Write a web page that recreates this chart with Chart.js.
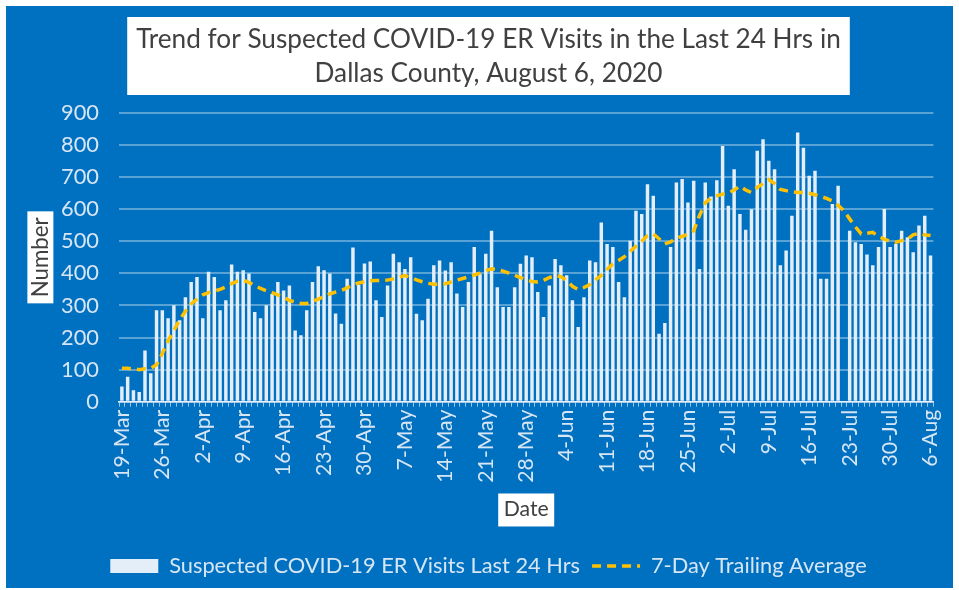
<!DOCTYPE html>
<html>
<head>
<meta charset="utf-8">
<script src="https://cdn.jsdelivr.net/npm/chart.js@4.4.0/dist/chart.umd.min.js"></script>
<style>
  html, body { margin: 0; padding: 0; background: #fff; }
  #wrap { width: 959px; height: 590px; }
</style>
</head>
<body>
<div id="wrap"><canvas id="erChart" width="959" height="590"></canvas></div>
<script>
// Categories: one bar per day, 19-Mar to 6-Aug 2020, a label every 7 days
const monthNames = ["Jan","Feb","Mar","Apr","May","Jun","Jul","Aug","Sep","Oct","Nov","Dec"];
const dates = [];
for (let i = 0; i < 141; i++) {
  const d = new Date(2020, 2, 19 + i);
  dates.push(d.getDate() + "-" + monthNames[d.getMonth()]);
}
const labelEvery = 7;

// Suspected COVID-19 ER visits in the last 24 hrs
const visits = [
  47, 78, 36, 30, 160, 89, 285, 285, 260, 301, 254, 326, 373, 389, 260, 405, 389, 285, 316, 428,
  405, 410, 400, 280, 260, 301, 336, 373, 347, 362, 222, 207, 285, 373, 422, 410, 400, 275, 243,
  383, 481, 364, 431, 437, 316, 264, 362, 461, 435, 414, 450, 274, 254, 321, 425, 440, 409, 435,
  337, 295, 373, 482, 399, 461, 533, 357, 295, 295, 357, 430, 456, 450, 342, 264, 362, 445, 425,
  394, 316, 233,
  326, 440, 435, 559, 492, 482, 373, 326, 502, 595, 585, 678, 642, 212, 245, 482, 683, 694, 621,
  689, 414, 683, 640, 690, 797, 611, 725, 585, 536, 600, 782, 818, 751, 725, 425, 471, 580, 839,
  792, 704,
  720, 383, 383, 616, 673, null, 533, 497, 492, 459, 425, 482, 601, 482, 492, 533, 513, 466, 549,
  580, 456
];

// 7-day trailing average
const trailingAvg = [
  104, 104, 102, 100, 103, 104, 115, 150, 190, 222, 255, 282, 305, 320, 333, 340, 345, 350, 358, 368,
  376, 378, 372, 362, 353, 346, 340, 333, 325, 316, 310, 306, 306, 312, 320, 328, 336, 342, 347,
  355, 365, 370, 374, 377, 378, 378, 379, 383, 388, 393, 388, 380, 374, 369, 366, 366, 368, 373,
  379, 384, 389, 395, 401, 408, 414, 412, 407, 401, 394, 387, 380, 375, 373, 378, 387, 393, 390,
  378, 360, 350,
  356, 365, 380, 394, 412, 430, 440, 452, 468, 485, 500, 518, 523, 508, 492, 498, 510, 515, 522,
  533, 580, 620, 635, 642, 647, 650, 660, 672, 660, 652, 668, 680, 692, 680, 662, 658, 655, 652,
  652, 650,
  645, 640, 634, 626, 612, 595, 570, 545, 523, 525, 528, 515, 507, 500, 497, 502, 507, 520, 525,
  520, 518
];

const titleLines = [
  "Trend for Suspected COVID-19 ER Visits in the Last 24 Hrs in",
  "Dallas County, August 6, 2020"
];

const FONT = "Lato, 'Open Sans', sans-serif";
const BLUE = "#0070c0";
const LIGHT = "#d7e6f5";
const DARK = "#404040";
const avgDash = [9, 6];

// pick a font size so a text gets the width it has in the picture
const measureCtx = document.createElement("canvas").getContext("2d");
function fitSize(text, width) {
  measureCtx.font = "100px " + FONT;
  return Math.round(1000 * width / measureCtx.measureText(text).width) / 10;
}
const titleSize = fitSize(titleLines[0], 705);
const legendSize = fitSize("Suspected COVID-19 ER Visits Last 24 Hrs", 411);
const xTickSize = fitSize("19-Mar", 70);
const yTickSize = fitSize("900", 38);
const numberSize = fitSize("Number", 80);
const dateSize = fitSize("Date", 45);

Chart.defaults.font.family = FONT;

// blue panel plus the white boxes behind title and axis titles
const framePlugin = {
  id: "frame",
  beforeDraw(chart) {
    const { ctx, chartArea, scales } = chart;
    ctx.save();
    ctx.fillStyle = BLUE;
    ctx.fillRect(6, 6, 947, 582);
    ctx.fillStyle = "#ffffff";

    const t = chart.titleBlock;
    ctx.font = titleSize + "px " + FONT;
    const tw = ctx.measureText(titleLines[0]).width + 18;
    const tcx = (t.left + t.right) / 2;
    ctx.fillRect(tcx - tw / 2, t.top + 9, tw, 78);

    const y = scales.y;
    const ycx = y.left + numberSize * 1.2 / 2;
    const ycy = (chartArea.top + chartArea.bottom) / 2;
    ctx.fillRect(ycx - 13, ycy - 46, 26, 92);

    const x = scales.x;
    const xcy = x.bottom - dateSize * 1.2 / 2 - 21;
    const xcx = (chartArea.left + chartArea.right) / 2;
    ctx.fillRect(xcx - 28, xcy - 16, 56, 33);
    ctx.restore();
  }
};

new Chart(document.getElementById("erChart"), {
  type: "bar",
  data: {
    labels: dates,
    datasets: [
      {
        label: "Suspected COVID-19 ER Visits Last 24 Hrs",
        data: visits,
        backgroundColor: "#e3eef9",
        barPercentage: 0.6,
        categoryPercentage: 1,
        pointStyle: "rect",
        order: 2
      },
      {
        type: "line",
        label: "7-Day Trailing Average",
        data: trailingAvg,
        borderColor: "#ffc000",
        backgroundColor: "#ffc000",
        borderWidth: 3.5,
        borderDash: avgDash,
        pointRadius: 0,
        pointStyle: "line",
        fill: false,
        tension: 0,
        order: 1
      }
    ]
  },
  options: {
    responsive: false,
    animation: false,
    devicePixelRatio: 1,
    layout: { padding: { left: 27, right: 9, top: 8, bottom: 3 } },
    plugins: {
      title: {
        display: true,
        text: titleLines,
        color: DARK,
        font: { size: titleSize, weight: "normal", lineHeight: 34 / titleSize },
        padding: { top: 15, bottom: 22 }
      },
      legend: {
        position: "bottom",
        labels: {
          usePointStyle: true,
          pointStyleWidth: 48,
          boxHeight: 14,
          color: LIGHT,
          font: { size: legendSize },
          padding: 12,
          sort: (a, b) => a.datasetIndex - b.datasetIndex,
          generateLabels: (chart) =>
            Chart.defaults.plugins.legend.labels.generateLabels(chart).map((item) => {
              if (item.datasetIndex === 1) {
                item.lineDash = avgDash;
                item.lineWidth = 3.5;
                item.strokeStyle = "#ffc000";
              }
              return item;
            })
        }
      },
      tooltip: { enabled: false }
    },
    scales: {
      x: {
        grid: { display: true, drawOnChartArea: false, drawTicks: true, tickLength: 5, color: "rgba(255,255,255,0.6)" },
        border: { display: true, color: "#e8f1fa", width: 1.5 },
        ticks: {
          autoSkip: false,
          minRotation: 90,
          maxRotation: 90,
          padding: 3,
          color: LIGHT,
          font: { size: xTickSize },
          callback: (v, i) => (i % labelEvery === 0 ? dates[i] : "")
        },
        title: {
          display: true,
          text: "Date",
          color: DARK,
          font: { size: dateSize },
          padding: { top: 4, bottom: 21 }
        },
        afterFit: (s) => { s.height = 141.5; }
      },
      y: {
        min: 0,
        max: 900,
        ticks: { stepSize: 100, padding: 20, color: LIGHT, font: { size: yTickSize } },
        grid: { color: "rgba(255,255,255,0.35)", lineWidth: 2, drawTicks: false },
        border: { display: false },
        title: {
          display: true,
          text: "Number",
          color: DARK,
          font: { size: numberSize },
          padding: { top: 0, bottom: 0 }
        },
        afterFit: (s) => { s.width = 92; }
      }
    }
  },
  plugins: [framePlugin]
});
</script>
</body>
</html>
